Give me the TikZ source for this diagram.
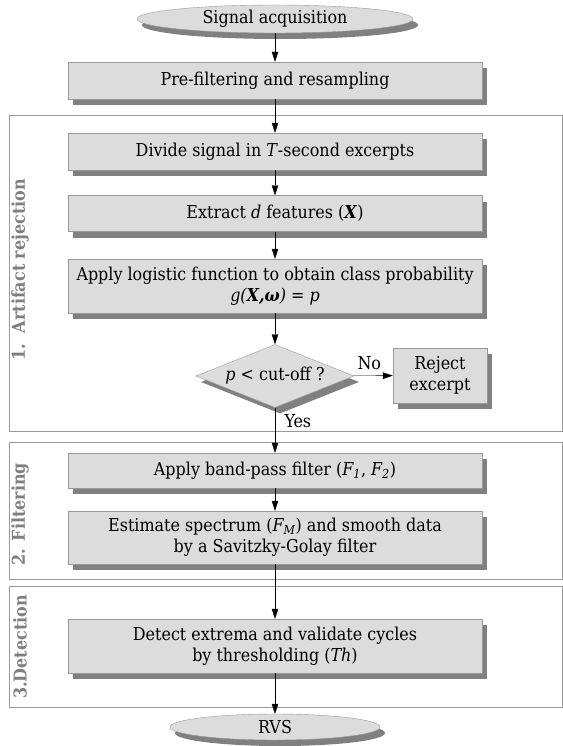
\documentclass[tikz,border=0pt]{standalone}
\usepackage{fontspec}
\setmainfont{DejaVu Serif Condensed}
\usetikzlibrary{shapes.geometric,shadows,arrows.meta}

\definecolor{boxfill}{HTML}{DCDCDC}
\definecolor{boxline}{HTML}{999999}
\definecolor{shadowgray}{HTML}{808080}
\definecolor{labelgray}{HTML}{7F7F7F}

\begin{document}
\begin{tikzpicture}[
        x = 1bp, y = -1bp,
        thin, % line style
        font = \fontsize{17.8}{21}\selectfont
    ]
    \tikzstyle{shadowed}=[
        drop shadow = {shadow xshift = 5bp, shadow yshift = -6bp,
                       fill = shadowgray, opacity = 1}
    ]

    \tikzstyle{step box}=[
        shadowed,
        draw = boxline,
        fill = boxfill,
        minimum width = 414bp,
        align = center,
        inner sep = 2bp
    ]

    \tikzstyle{end oval}=[
        shadowed,
        ellipse,
        draw = boxline,
        fill = boxfill,
        inner sep = 0pt
    ]

    \tikzstyle{stage frame}=[
        draw = boxline,
        line width = 1pt
    ]

    \tikzstyle{stage label}=[
        rotate = 90,
        text = labelgray,
        font = \fontsize{17.8}{21}\selectfont\bfseries
    ]

    \tikzstyle{flow}=[
        -{Triangle[length = 10bp, width = 6.5bp]},
        black
    ]

    \useasboundingbox (0, 0) rectangle (563, 746);

    % stage frames
    \draw[stage frame] (9, 115) rectangle (562.5, 431);
    \draw[stage frame] (9, 442) rectangle (562.5, 579);
    \draw[stage frame] (9, 586) rectangle (562.5, 707);

    \node[stage label] (lab1) at (20, 270) {1.\ \ Artifact rejection};
    \node[stage label] (lab2) at (20, 514) {2. Filtering};
    \node[stage label] (lab3) at (20, 647) {3.Detection};

    % flow nodes
    \node[end oval, minimum width = 276bp, minimum height = 28bp]
        (acq) at (275, 19) {Signal acquisition};
    \node[step box, minimum height = 37bp] (pre) at (275, 80.5)
        {Pre-filtering and resampling};
    \node[step box, minimum height = 37bp] (div) at (275, 151.5)
        {Divide signal in \textit{T}-second excerpts};
    \node[step box, minimum height = 36bp] (feat) at (275, 213.5)
        {Extract \textit{d} features (\textbf{\textit{X}})};
    \node[step box, minimum height = 54bp] (logi) at (275, 286)
        {Apply logistic function to obtain class probability\\
         \textit{g(\textbf{X,ω}) = p}};
    \node[shadowed, diamond, aspect = 2.5, draw = boxline, fill = boxfill,
          minimum width = 158bp, minimum height = 63bp, inner sep = 0pt]
        (cut) at (275, 376) {\textit{p} < cut-off ?};
    \node[step box, minimum width = 94bp, minimum height = 55bp] (rej)
        at (440, 375.5) {Reject\\excerpt};
    \node[step box, minimum height = 35bp] (band) at (275, 470.5)
        {Apply band-pass filter (\textit{F\textsubscript{1}}, \textit{F\textsubscript{2}})};
    \node[step box, minimum height = 53bp] (spec) at (275, 537.5)
        {Estimate spectrum (\textit{F\textsubscript{M}}) and smooth data\\
         by a Savitzky-Golay filter};
    \node[step box, minimum height = 54bp] (det) at (275, 646)
        {Detect extrema and validate cycles\\
         by thresholding (\textit{Th})};
    \node[end oval, minimum width = 210bp, minimum height = 26bp]
        (rvs) at (275, 727) {RVS};

    % connectors
    \draw[flow] (acq) -- (pre);
    \draw[flow] (pre) -- (div);
    \draw[flow] (div) -- (feat);
    \draw[flow] (feat) -- (logi);
    \draw[flow] (logi) -- (cut);
    \draw[flow] (cut) -- node[above, pos = 0.4, yshift = 2bp] {No} (rej);
    \draw[flow] (cut) -- node[right, pos = 0.3, xshift = 6bp] {Yes} (band);
    \draw[flow] (band) -- (spec);
    \draw[flow] (spec) -- (det);
    \draw[flow] (det) -- (rvs);

\end{tikzpicture}
\end{document}
